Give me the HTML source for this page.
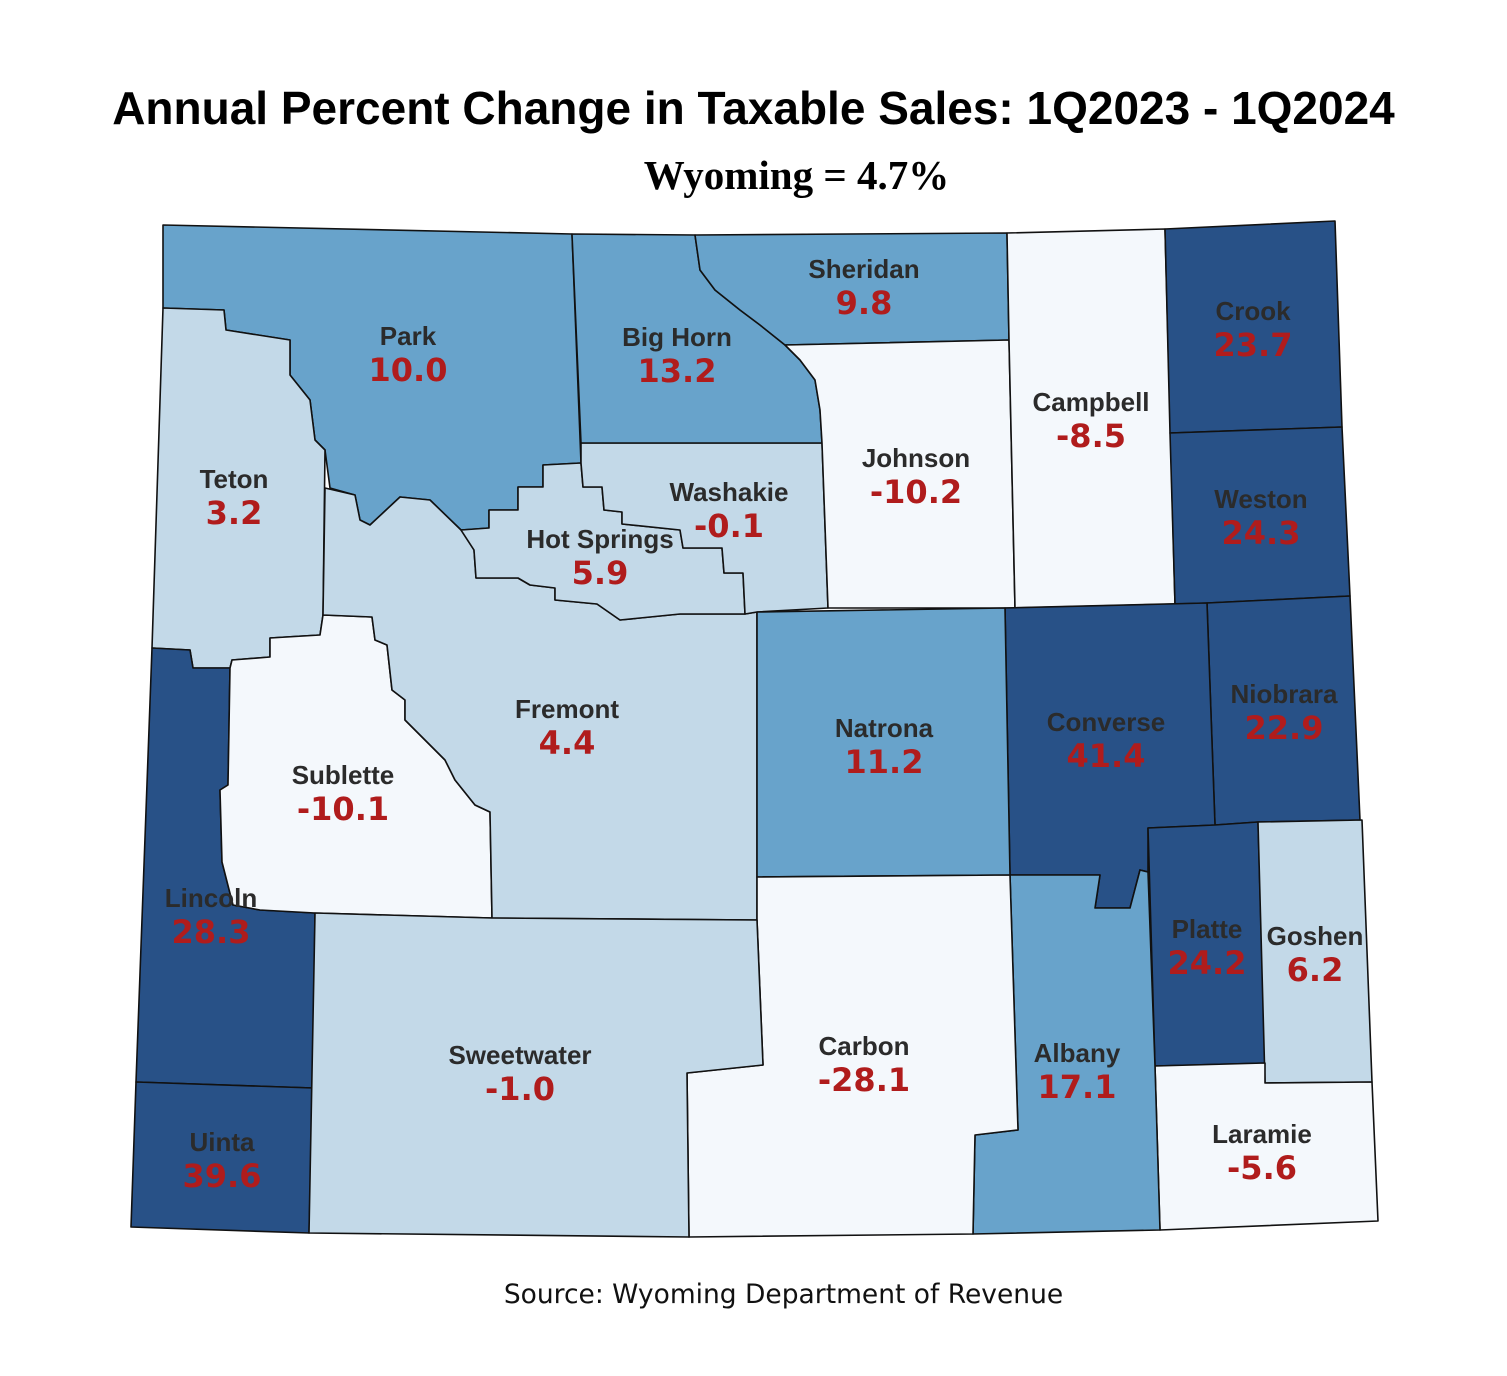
<!DOCTYPE html>
<html><head><meta charset="utf-8"><style>
html,body{margin:0;padding:0;background:#fff;}
body{width:1507px;height:1376px;position:relative;overflow:hidden;}
.t{position:absolute;left:0;width:1507px;text-align:center;}
</style></head><body>
<div class="t" style="top:81px;font:bold 46px 'Liberation Sans',sans-serif;color:#000;">Annual Percent Change in Taxable Sales: 1Q2023 - 1Q2024</div>
<div class="t" style="top:151px;left:43px;font:bold 41px 'Liberation Serif',serif;color:#000;">Wyoming = 4.7%</div>
<svg id="map" width="1507" height="1376" style="position:absolute;left:0;top:0" xmlns="http://www.w3.org/2000/svg"></svg>
<div class="t" style="top:1279px;left:30px;font:26.5px 'DejaVu Sans','Liberation Sans',sans-serif;color:#111;">Source: Wyoming Department of Revenue</div>
<script>
const counties=["Park","Teton","Lincoln","Uinta","Sublette","Fremont","Hot Springs","Washakie","Big Horn","Sheridan","Johnson","Campbell","Crook","Weston","Niobrara","Converse","Natrona","Platte","Goshen","Laramie","Albany","Carbon","Sweetwater"];
const values=[10.0,3.2,28.3,39.6,-10.1,4.4,5.9,-0.1,13.2,9.8,-10.2,-8.5,23.7,24.3,22.9,41.4,11.2,24.2,6.2,-5.6,17.1,-28.1,-1.0];
const shapes={
"Park":"163,225 572,234 581,463 543,465 543,487 518,487 518,510 489,510 489,528 461,530 430,500 400,497 370,525 360,520 355,495 330,488 325,450 315,440 310,400 290,375 290,340 226,330 224,310 163,308",
"Teton":"163,308 224,310 226,330 290,340 290,375 310,400 315,440 325,450 323,615 320,635 270,638 270,657 232,660 230,668 193,668 190,650 152,648",
"Lincoln":"152,648 190,650 193,668 230,668 228,785 220,790 222,862 233,905 260,910 315,913 313,1088 136,1082",
"Uinta":"136,1082 313,1088 309,1233 131,1227",
"Sublette":"232,660 270,657 270,638 320,635 323,615 372,617 375,640 387,645 392,690 405,700 405,720 445,760 455,780 475,805 490,812 492,918 315,913 260,910 233,905 222,862 220,790 228,785 230,668",
"Fremont":"325,488 355,495 360,520 370,525 400,497 430,500 461,530 474,550 476,578 518,578 530,585 555,588 555,600 597,604 620,620 680,614 745,614 757,612 757,920 492,918 490,812 475,805 455,780 445,760 405,720 405,700 392,690 387,645 375,640 372,617 323,615",
"Hot Springs":"543,465 581,463 583,487 602,487 604,510 622,512 622,524 680,530 683,548 722,548 724,573 743,573 745,614 680,614 620,620 597,604 555,600 555,588 530,585 518,578 476,578 474,550 461,530 489,528 489,510 518,510 518,487 543,487",
"Washakie":"581,443 822,443 828,608 757,612 745,614 743,573 724,573 722,548 683,548 680,530 622,524 622,512 604,510 602,487 583,487 581,463",
"Big Horn":"572,234 695,235 700,270 715,290 740,310 760,325 785,345 800,360 815,380 820,410 822,443 581,443",
"Sheridan":"695,235 1007,233 1009,340 785,345 760,325 740,310 715,290 700,270",
"Johnson":"785,345 1009,340 1015,608 828,608 822,443 820,410 815,380 800,360",
"Campbell":"1007,233 1165,229 1175,604 1015,608 1009,340",
"Crook":"1165,229 1335,221 1342,427 1170,433",
"Weston":"1170,433 1342,427 1350,596 1207,603 1175,604",
"Niobrara":"1207,603 1350,596 1360,820 1258,822 1215,825",
"Converse":"1005,608 1207,603 1215,825 1148,828 1148,872 1140,870 1130,908 1095,908 1100,875 1010,875",
"Natrona":"757,612 1005,608 1010,875 757,877",
"Platte":"1148,828 1215,825 1258,822 1265,1063 1155,1066",
"Goshen":"1258,822 1362,820 1372,1082 1265,1083",
"Laramie":"1155,1066 1265,1063 1265,1083 1372,1082 1378,1221 1160,1230",
"Albany":"1010,875 1100,875 1095,908 1130,908 1140,870 1148,872 1155,1066 1160,1230 973,1234 975,1135 1018,1130",
"Carbon":"757,877 1010,875 1018,1130 975,1135 973,1234 689,1237 687,1073 763,1065 757,920",
"Sweetwater":"315,913 492,918 757,920 763,1065 687,1073 689,1237 309,1233"};
const labelPos={"Park":[408,345],"Teton":[234,488],"Lincoln":[211,907],"Uinta":[222,1151],"Sublette":[343,784],"Fremont":[567,718],"Hot Springs":[600,548],"Washakie":[729,501],"Big Horn":[677,346],"Sheridan":[864,278],"Johnson":[916,467],"Campbell":[1091,411],"Crook":[1253,320],"Weston":[1261,508],"Niobrara":[1284,703],"Converse":[1106,731],"Natrona":[884,737],"Platte":[1207,938],"Goshen":[1315,945],"Laramie":[1262,1143],"Albany":[1077,1062],"Carbon":[864,1055],"Sweetwater":[520,1064]};
function colorFor(v){ if(v<-5) return "#f4f8fc"; if(v<9) return "#c3d9e8"; if(v<20) return "#68a3cb"; return "#285187"; }
const svg=document.getElementById('map');
const NS="http://www.w3.org/2000/svg";
counties.forEach((c,i)=>{
  const p=document.createElementNS(NS,'polygon');
  p.setAttribute('points',shapes[c]);
  p.setAttribute('fill',colorFor(values[i]));
  p.setAttribute('stroke','#111');p.setAttribute('stroke-width','1.6');p.setAttribute('stroke-linejoin','round');
  
  
  svg.appendChild(p);
});
counties.forEach((c,i)=>{
  const [x,y]=labelPos[c];
  const n=document.createElementNS(NS,'text');
  n.setAttribute('x',x);n.setAttribute('y',y);n.setAttribute('text-anchor','middle');
  n.setAttribute('font-family','Liberation Sans, DejaVu Sans, sans-serif');n.setAttribute('font-weight','bold');n.setAttribute('font-size','26');
  n.setAttribute('fill','#2b2b2b');n.textContent=c;
  
  
  svg.appendChild(n);
  const v=document.createElementNS(NS,'text');
  v.setAttribute('x',x);v.setAttribute('y',y+36);v.setAttribute('text-anchor','middle');
  v.setAttribute('font-family','DejaVu Sans, Liberation Sans, sans-serif');v.setAttribute('font-weight','bold');v.setAttribute('font-size','32');
  v.setAttribute('fill','#b01c1c');v.textContent=values[i].toFixed(1);
  
  
  svg.appendChild(v);
});
</script>
</body></html>
